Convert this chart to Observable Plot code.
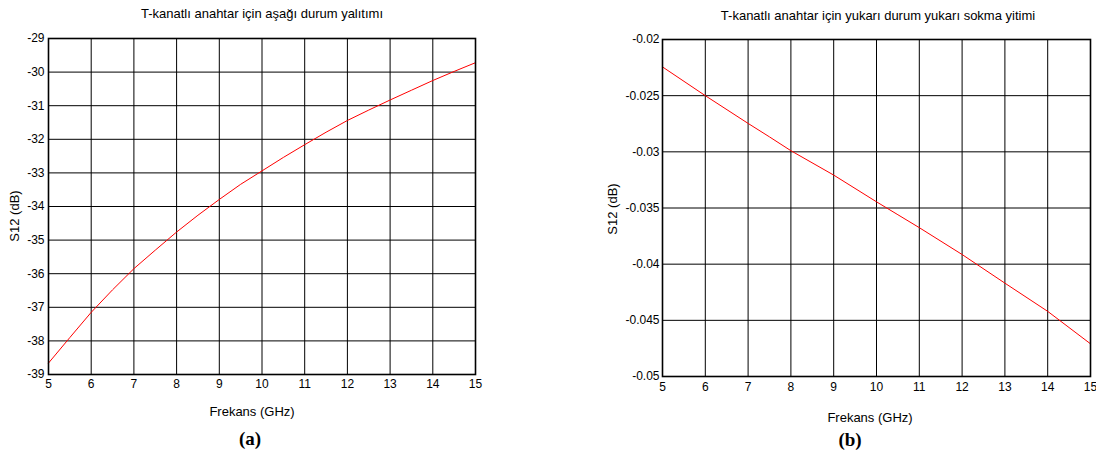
<!DOCTYPE html>
<html><head><meta charset="utf-8">
<script src="https://cdn.jsdelivr.net/npm/d3@7"></script>
<script src="https://cdn.jsdelivr.net/npm/@observablehq/plot@0.6"></script>
<style>
body{margin:0;background:#fff;}
#wrap{position:relative;width:1096px;height:452px;overflow:hidden;background:#fff;font-family:"Liberation Sans",Arial,sans-serif;color:#000;}
.t{position:absolute;white-space:nowrap;transform:translate(-50%,-50%);line-height:1;}
.title{font-size:13px;}
.lab{font-size:13px;}
.rot{transform:translate(-50%,-50%) rotate(-90deg);}
.cap{font-family:"Liberation Serif","Times New Roman",serif;font-weight:bold;font-size:19px;}
</style></head><body><div id="wrap"></div>
<script>
// ---- data ----
const titleA = "T-kanatlı anahtar için aşağı durum yalıtımı";
const titleB = "T-kanatlı anahtar için yukarı durum yukarı sokma yitimi";
const xLabel = "Frekans (GHz)";
const yLabel = "S12 (dB)";
const xTicks = [5,6,7,8,9,10,11,12,13,14,15];
const yTicksA = [-29,-30,-31,-32,-33,-34,-35,-36,-37,-38,-39];
const yTicksB = [-0.02,-0.025,-0.03,-0.035,-0.04,-0.045,-0.05];

const freqA = [5,5.5,6,6.5,7,7.5,8,8.5,9,9.5,10,10.5,11,11.5,12,12.5,13,13.5,14,14.5,15];
const s12A  = [-38.66,-37.9,-37.15,-36.48,-35.85,-35.3,-34.76,-34.26,-33.79,-33.34,-32.94,-32.54,-32.16,-31.79,-31.44,-31.13,-30.83,-30.54,-30.25,-29.98,-29.72];

const freqB = [5,6,7,7.5,8,9,10,10.5,11,12,13,14,15];
const s12B  = [-0.02244,-0.025,-0.02747,-0.02867,-0.0299,-0.03207,-0.03445,-0.0356,-0.03675,-0.03914,-0.04169,-0.0442,-0.04709];

const dataA = freqA.map((f,i)=>({f, v:s12A[i]}));
const dataB = freqB.map((f,i)=>({f, v:s12B[i]}));

const wrap = document.getElementById("wrap");

function makePlot(data, yDomain, yTicks, m, left) {
  const svg = Plot.plot({
    width: 548, height: 452,
    marginLeft: m.l, marginRight: m.r, marginTop: m.t, marginBottom: m.b,
    style: {fontFamily: '"Liberation Sans", Arial, sans-serif', fontSize: "12px", background: "transparent", color: "#000"},
    x: {domain: [5, 15]},
    y: {domain: yDomain},
    marks: [
      Plot.gridX(xTicks, {stroke: "black", strokeOpacity: 1, strokeWidth: 1}),
      Plot.gridY(yTicks, {stroke: "black", strokeOpacity: 1, strokeWidth: 1}),
      Plot.line(data, {x: "f", y: "v", stroke: "#ff0000", strokeWidth: 1}),
      Plot.frame({stroke: "black", strokeWidth: 1.6}),
      Plot.axisX(xTicks, {tickSize: 0, tickPadding: m.xp, label: null, tickFormat: d => String(d), fill: "black"}),
      Plot.axisY(yTicks, {tickSize: 0, tickPadding: m.yp, label: null, tickFormat: d => String(d), fill: "black"})
    ]
  });
  svg.style.position = "absolute";
  svg.style.left = left + "px";
  svg.style.top = "0px";
  svg.style.overflow = "visible";
  wrap.appendChild(svg);
}

makePlot(dataA, [-39, -29], yTicksA, {l: 48, r: 73, t: 38, b: 78, xp: 5, yp: 4}, 0);
makePlot(dataB, [-0.05, -0.02], yTicksB, {l: 114, r: 6, t: 39, b: 76, xp: 6, yp: 3}, 548);

function txt(s, x, y, cls) {
  const d = document.createElement("div");
  d.className = "t " + cls;
  d.textContent = s;
  d.style.left = x + "px";
  d.style.top = y + "px";
  wrap.appendChild(d);
}
txt(titleA, 262, 13, "title");
txt(titleB, 878, 15, "title");
txt(xLabel, 252, 411, "lab");
txt(xLabel, 870, 417, "lab");
txt(yLabel, 14, 216, "lab rot");
txt(yLabel, 612, 209, "lab rot");
txt("(a)", 250, 438, "cap");
txt("(b)", 850, 439, "cap");
</script>
</body></html>
